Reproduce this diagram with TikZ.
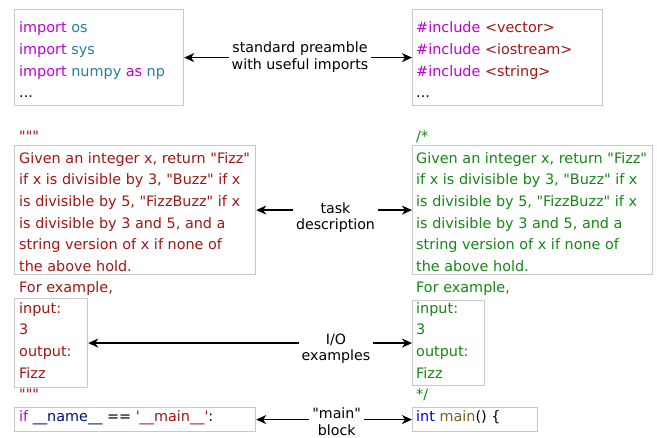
\documentclass[tikz,border=0pt]{standalone}
\usepackage{fontspec}
\setmainfont{DejaVu Sans}[Ligatures=TeXOff]
\usetikzlibrary{arrows.meta}
\definecolor{kw}{RGB}{190,0,210}
\definecolor{ty}{RGB}{38,127,153}
\definecolor{st}{RGB}{163,21,21}
\definecolor{cm}{RGB}{20,135,20}
\definecolor{bl}{RGB}{0,0,255}
\definecolor{fn}{RGB}{121,94,38}
\definecolor{va}{RGB}{0,16,128}
\definecolor{boxgray}{RGB}{200,200,200}
\begin{document}
\begin{tikzpicture}[x=1pt,y=-1pt,
  box/.style={draw=boxgray, line width=1.2pt, inner sep=0pt, anchor=north west},
  code/.style={anchor=base west, inner sep=0pt, font=\fontsize{14.4}{17}\selectfont},
  lab/.style={align=center, inner sep=3pt, font=\fontsize{14.2}{16.5}\selectfont},
  arr/.style={-{Stealth[length=10pt,width=9pt,inset=3pt]}, line width=1.2pt}]
\useasboundingbox (0,0) rectangle (657,438);

% boxes
\node[box, minimum width=169pt, minimum height=96pt] (py1) at (14,9) {};
\node[box, minimum width=190pt, minimum height=96pt] (cc1) at (412,9) {};
\node[box, minimum width=241pt, minimum height=129pt] (py2) at (14,145) {};
\node[box, minimum width=240pt, minimum height=129pt] (cc2) at (412,145) {};
\node[box, minimum width=73pt, minimum height=89pt] (py3) at (14,298) {};
\node[box, minimum width=72pt, minimum height=85pt] (cc3) at (412,300) {};
\node[box, minimum width=241pt, minimum height=24pt] (py4) at (14,407) {};
\node[box, minimum width=125pt, minimum height=24pt] (cc4) at (412,407) {};

% python preamble
\node[code] (pa1) at (19,33) {\textcolor{kw}{import} \textcolor{ty}{os}};
\node[code] (pa2) at (19,54.6) {\textcolor{kw}{import} \textcolor{ty}{sys}};
\node[code] (pa3) at (19,76.2) {\textcolor{kw}{import} \textcolor{ty}{numpy} \textcolor{kw}{as} \textcolor{ty}{np}};
\node[code] (pa4) at (19,97.8) {...};

% c++ preamble
\node[code] (ca1) at (416,33) {\textcolor{kw}{\#include} \textcolor{st}{<vector>}};
\node[code] (ca2) at (416,54.6) {\textcolor{kw}{\#include} \textcolor{st}{<iostream>}};
\node[code] (ca3) at (416,76.2) {\textcolor{kw}{\#include} \textcolor{st}{<string>}};
\node[code] (ca4) at (416,97.8) {...};

% python task
\begin{scope}[every node/.append style={text=st}]
\node[code] (pq1) at (19,141.8) {"""};
\node[code] (pb1) at (19,163.3) {Given an integer x, return "Fizz"};
\node[code] (pb2) at (19,184.9) {if x is divisible by 3, "Buzz" if x};
\node[code] (pb3) at (19,206.5) {is divisible by 5, "FizzBuzz" if x};
\node[code] (pb4) at (19,228.1) {is divisible by 3 and 5, and a};
\node[code] (pb5) at (19,249.7) {string version of x if none of};
\node[code] (pb6) at (19,271.3) {the above hold.};
\node[code] (pb7) at (19,292.2) {For example,};
\node[code] (pc1) at (19,313.3) {input:};
\node[code] (pc2) at (19,334.9) {3};
\node[code] (pc3) at (19,356.5) {output:};
\node[code] (pc4) at (19,378.1) {Fizz};
\node[code] (pq2) at (19,399.7) {"""};
\end{scope}

% c++ task
\begin{scope}[every node/.append style={text=cm}]
\node[code] (cq1) at (416,141.8) {/*};
\node[code] (cb1) at (416,163.3) {Given an integer x, return "Fizz"};
\node[code] (cb2) at (416,184.9) {if x is divisible by 3, "Buzz" if x};
\node[code] (cb3) at (416,206.5) {is divisible by 5, "FizzBuzz" if x};
\node[code] (cb4) at (416,228.1) {is divisible by 3 and 5, and a};
\node[code] (cb5) at (416,249.7) {string version of x if none of};
\node[code] (cb6) at (416,271.3) {the above hold.};
\node[code] (cb7) at (416,292.2) {For example,};
\node[code] (cc1t) at (416,313.3) {input:};
\node[code] (cc2t) at (416,334.9) {3};
\node[code] (cc3t) at (416,356.5) {output:};
\node[code] (cc4t) at (416,378.1) {Fizz};
\node[code] (cq2) at (416,399.7) {*/};
\end{scope}

% main blocks
\node[code] (pm) at (19,421.7) {\textcolor{kw}{if} \textcolor{va}{\_\_name\_\_} == \textcolor{st}{'\_\_main\_\_'}:};
\node[code] (cm) at (416,421.7) {\textcolor{bl}{int} \textcolor{fn}{main}() \{};

% labels
\node[lab] (l1) at (300,57) {standard preamble\\with useful imports};
\node[lab] (l2) at (335.5,217.6) {task\\description};
\node[lab] (l3) at (336,348.8) {I/O\\examples};
\node[lab] (l4) at (336.7,421.5) {"main"\\block};

% arrows
\draw[arr] (l1.west |- py1.east) -- (py1.east);
\draw[arr] (l1.east |- cc1.west) -- (cc1.west);
\draw[arr] (l2.west |- py2.east) -- (py2.east);
\draw[arr] (l2.east |- cc2.west) -- (cc2.west);
\draw[arr] (l3.west |- py3.east) -- (py3.east);
\draw[arr] (l3.east |- cc3.west) -- (cc3.west);
\draw[arr] (l4.west |- py4.east) -- (py4.east);
\draw[arr] (l4.east |- cc4.west) -- (cc4.west);
\end{tikzpicture}
\end{document}
